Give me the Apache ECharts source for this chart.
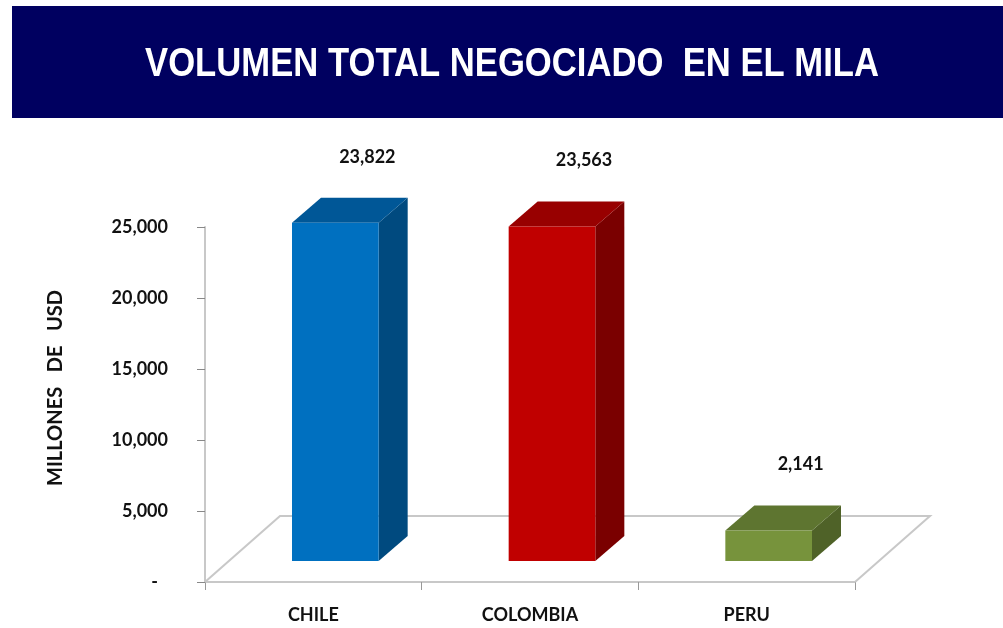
<!DOCTYPE html>
<html>
<head>
<meta charset="utf-8">
<script src="https://cdn.jsdelivr.net/npm/echarts@6/dist/echarts.min.js"></script>
<style>
  html, body { margin: 0; padding: 0; background: #fff; }
  #main { width: 1003px; height: 628px; }
</style>
</head>
<body>
<div id="main"></div>
<script>
// datos del grafico
var categories = ['CHILE', 'COLOMBIA', 'PERU'];
var volumes = [23822, 23563, 2141];
var yMin = 0, yMax = 25000, yStep = 5000;

var frontColors = ['#0070C0', '#C00000', '#77933C'];
var sideColors = ['#004A7F', '#7A0000', '#4F6228'];
var topColors = ['#005797', '#980000', '#5E7530'];

var labelFont = 'Lato, "Open Sans", sans-serif';

function fmt(v) {
    return v.toLocaleString('en-US');
}

// piso 3D (lineas grises)
function renderFloor(params, api) {
    var band = api.size([1, 0])[0];
    var l = api.coord([0, 0]);
    var r = api.coord([categories.length - 1, 0]);
    var xl = l[0] - band / 2, xr = r[0] + band / 2, y = l[1];
    var dx = 75, dy = -66;
    return {
        type: 'polyline',
        shape: { points: [[xl, y], [xl + dx, y + dy], [xr + dx, y + dy], [xr, y]] },
        style: { stroke: '#C8C8C8', lineWidth: 2, fill: null }
    };
}

// barra 3D: frente, lado, tapa
function renderBar(params, api) {
    var i = api.value(0), v = api.value(1);
    var top = api.coord([i, v]);
    var base = api.coord([i, 0]);
    var bw = api.size([1, 0])[0] * 0.4;
    var ox = 22, oy = -21, dx = 29, dy = -25;
    var x0 = top[0] - bw / 2 + ox, x1 = x0 + bw;
    var yT = top[1] + oy, yB = base[1] + oy;
    return {
        type: 'group',
        children: [
            {
                type: 'polygon',
                shape: { points: [[x1, yT], [x1 + dx, yT + dy], [x1 + dx, yB + dy], [x1, yB]] },
                style: { fill: sideColors[i] }
            },
            {
                type: 'polygon',
                shape: { points: [[x0, yT], [x0 + dx, yT + dy], [x1 + dx, yT + dy], [x1, yT]] },
                style: { fill: topColors[i] }
            },
            {
                type: 'rect',
                shape: { x: x0, y: yT, width: bw, height: yB - yT },
                style: { fill: frontColors[i] }
            },
            {
                type: 'text',
                x: x0 + bw / 2 + 32,
                y: yT - 66,
                style: {
                    text: fmt(v),
                    font: 'bold 18px ' + labelFont,
                    fill: '#111',
                    align: 'center',
                    verticalAlign: 'middle'
                }
            }
        ]
    };
}

var myChart = echarts.init(document.getElementById('main'));

var option = {
    animation: false,
    backgroundColor: '#fff',
    graphic: [
        {
            type: 'rect',
            left: 12, top: 6,
            shape: { width: 991, height: 112 },
            style: { fill: '#000060' }
        },
        {
            type: 'text',
            x: 512, y: 65,
            scaleX: 0.866,
            style: {
                text: 'VOLUMEN TOTAL NEGOCIADO  EN EL MILA',
                font: 'bold 40px "Liberation Sans", Arial, sans-serif',
                fill: '#fff',
                align: 'center',
                verticalAlign: 'middle'
            }
        },
        {
            // titulo del eje Y
            type: 'text',
            x: 56, y: 388,
            rotation: Math.PI / 2,
            style: {
                text: 'MILLONES   DE   USD',
                font: 'bold 20px ' + labelFont,
                fill: '#111',
                align: 'center',
                verticalAlign: 'middle'
            }
        }
    ],
    grid: { left: 205, top: 227, width: 650, height: 355 },
    xAxis: {
        type: 'category',
        data: categories,
        axisLine: { lineStyle: { color: '#C8C8C8', width: 2 } },
        axisTick: { show: true, length: 8, lineStyle: { color: '#999' } },
        axisLabel: {
            margin: 24,
            color: '#111',
            fontFamily: labelFont,
            fontWeight: 'bold',
            fontSize: 18
        }
    },
    yAxis: {
        type: 'value',
        min: yMin, max: yMax, interval: yStep,
        splitLine: { show: false },
        axisLine: { show: true, lineStyle: { color: '#C8C8C8', width: 2 } },
        axisTick: { show: true, length: 8, lineStyle: { color: '#888' } },
        axisLabel: {
            margin: 37,
            color: '#111',
            fontFamily: labelFont,
            fontWeight: 'bold',
            fontSize: 18,
            formatter: function (v) {
                return v === 0 ? '{d|-}' : fmt(v);
            },
            rich: { d: { padding: [0, 10, 0, 0], fontWeight: 'bold', fontSize: 18, color: '#111' } }
        }
    },
    series: [
        {
            type: 'custom',
            renderItem: renderFloor,
            data: [[0, 0]],
            z: 1,
            silent: true
        },
        {
            type: 'custom',
            renderItem: renderBar,
            data: volumes.map(function (v, i) { return [i, v]; }),
            z: 2,
            encode: { x: 0, y: 1 }
        }
    ]
};

myChart.setOption(option);
</script>
</body>
</html>
